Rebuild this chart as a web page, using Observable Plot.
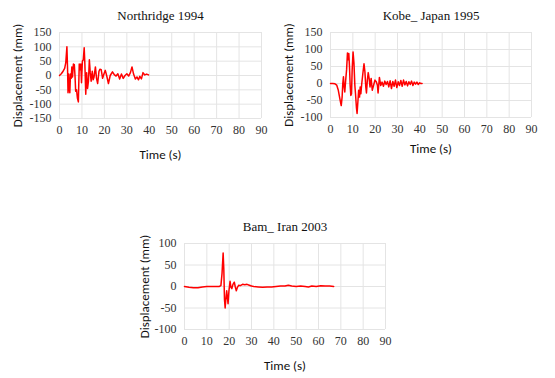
<!DOCTYPE html>
<html>
<head>
<meta charset="utf-8">
<script src="https://cdn.jsdelivr.net/npm/d3@7"></script>
<script src="https://cdn.jsdelivr.net/npm/@observablehq/plot@0.6"></script>
<style>
html,body{margin:0;padding:0;background:#fff;}
#wrap{position:relative;width:555px;height:378px;overflow:hidden;background:#fff;}
.panel{position:absolute;}
</style>
</head>
<body>
<div id="wrap"></div>
<script>
// ---- data ----
const xTicks = [0,10,20,30,40,50,60,70,80,90];
const yTicksN = [-150,-100,-50,0,50,100,150];
const yTicksK = [-100,-50,0,50,100,150];
const yTicksB = [-100,-50,0,50,100];

const northT = [0,0.8,1.6,2.3,2.8,3.3,3.6,3.8,4.1,4.3,4.6,4.9,5.2,5.5,5.8,6.2,6.6,6.9,7.2,7.6,8.0,8.4,8.8,9.2,9.5,9.8,10.2,10.6,11.0,11.3,11.7,12.1,12.5,12.9,13.3,13.7,14.1,14.6,15.0,15.4,16.0,16.5,17.0,17.6,18.0,18.6,19.2,19.8,20.4,21.0,21.8,22.6,23.6,24.4,25.2,26.0,26.8,27.6,28.4,29.2,30.0,30.8,31.6,32.3,33.0,33.8,34.5,35.2,35.8,36.5,37.2,38.0,38.8,39.7];
const northD = [0,6,15,25,45,100,20,-60,5,-40,-60,5,-10,30,-5,40,38,0,-55,-50,-80,-92,40,20,40,-25,50,55,97,40,-65,10,-45,-20,55,10,-20,15,-15,-5,30,-10,-28,15,22,20,-10,5,18,0,-28,0,13,3,-2,6,-12,5,-10,0,6,-2,10,30,5,-12,-5,-15,-3,-12,10,2,5,2];

const kobeT = [0,1,2,2.8,3.5,4.2,4.8,5.2,5.5,5.8,6.1,6.4,6.8,7.2,7.6,7.9,8.2,8.5,8.8,9.1,9.4,9.7,10.1,10.5,10.9,11.2,11.6,11.9,12.3,12.6,13.0,13.3,13.6,14.0,14.5,15.0,15.4,15.8,16.1,16.5,16.9,17.3,17.7,18.2,18.7,19.3,19.9,20.5,21.0,21.3,21.9,22.5,23.1,23.7,24.3,24.9,25.5,26.1,26.7,27.3,27.9,28.5,29.1,29.7,30.3,30.9,31.5,32.1,32.7,33.3,33.9,34.5,35.1,35.7,36.3,36.9,37.5,38.1,38.7,39.3,39.9,40.5,41];
const kobeD = [0,0,-1,-5,-20,-45,-65,-40,0,20,-10,-25,10,40,90,70,88,50,-5,-35,-30,40,93,60,-5,-30,-70,-88,-50,-20,-40,-10,-30,0,30,58,35,-10,-28,10,32,15,-10,15,-20,-5,10,5,-5,-28,18,-6,4,-8,7,-3,6,-10,8,-15,6,-8,10,-12,5,-6,9,-8,10,-4,6,-7,5,-3,7,-6,4,-2,4,-3,2,0,0];

const bamT = [0,2,4,6,8,10,12,14,15.5,16.3,16.8,17.3,17.6,17.9,18.2,18.6,18.9,19.2,19.5,19.9,20.4,20.8,21.2,21.7,22.3,22.7,23.2,23.7,24.3,25.0,26.0,27.0,28.0,29.0,30.0,31.0,33.0,35.0,37.0,39.0,41.0,43.0,45.0,46.5,48.0,50.0,52.0,54.0,55.5,57.0,59.0,61.0,63.0,65.0,66.8];
const bamD = [0,-2,-3,-3,-1,0,0,0,0,2,30,78,40,-30,-50,-25,-10,-25,-40,-10,12,-2,-5,5,10,0,-10,-2,3,2,5,4,5,3,1,0,-1,-2,-1,-1,0,1,1,3,1,0,1,0,-1,1,0,2,1,1,0];

const panels = [
  {title:"Northridge 1994", t:northT, d:northD, yDomain:[-150,150], yTicks:yTicksN,
   left:0, top:0, width:280, height:165, mL:59, mR:19, mT:32, mB:47, xl:36, yl:-42},
  {title:"Kobe_ Japan 1995", t:kobeT, d:kobeD, yDomain:[-100,150], yTicks:yTicksK,
   left:280, top:0, width:275, height:165, mL:50, mR:24, mT:32, mB:48, xl:31, yl:-42},
  {title:"Bam_ Iran 2003", t:bamT, d:bamD, yDomain:[-100,100], yTicks:yTicksB,
   left:130, top:210, width:280, height:168, mL:54, mR:25, mT:33, mB:49, xl:36, yl:-40}
];

const serif = "Liberation Serif";
const sans = "Carlito";
const wrap = document.getElementById("wrap");

for (const p of panels) {
  const data = p.t.map((t,i)=>({t, d:p.d[i]}));
  const chart = Plot.plot({
    width:p.width, height:p.height,
    marginLeft:p.mL, marginRight:p.mR, marginTop:p.mT, marginBottom:p.mB,
    style:{fontFamily:serif, fontSize:"12px", background:"transparent", overflow:"visible"},
    x:{domain:[0,90], axis:null},
    y:{domain:p.yDomain, axis:null},
    marks:[
      Plot.gridX(xTicks, {stroke:"#e4e4e4", strokeOpacity:1}),
      Plot.gridY(p.yTicks, {stroke:"#e4e4e4", strokeOpacity:1}),
      Plot.text(xTicks, {x:d=>d, frameAnchor:"bottom", lineAnchor:"middle", dy:12, text:d=>String(d), fontFamily:serif, fontSize:12, fill:"#333"}),
      Plot.text(p.yTicks, {y:d=>d, frameAnchor:"left", lineAnchor:"middle", textAnchor:"end", dx:-8, text:d=>String(d), fontFamily:serif, fontSize:12, fill:"#333"}),
      Plot.line(data, {x:"t", y:"d", stroke:"#ff0000", strokeWidth:1.5}),
      Plot.text([p.title], {frameAnchor:"top", lineAnchor:"middle", dy:-17, fontFamily:serif, fontSize:13, fill:"#111"}),
      Plot.text(["Time (s)"], {frameAnchor:"bottom", lineAnchor:"middle", dy:p.xl, fontFamily:sans, fontSize:13, fill:"#111"}),
      Plot.text(["Displacement (mm)"], {frameAnchor:"left", lineAnchor:"middle", textAnchor:"middle", dx:p.yl, rotate:-90, fontFamily:sans, fontSize:13, fill:"#111"})
    ]
  });
  chart.classList.add("panel");
  chart.style.left = p.left + "px";
  chart.style.top = p.top + "px";
  chart.style.position = "absolute";
  wrap.appendChild(chart);
}
</script>
</body>
</html>
